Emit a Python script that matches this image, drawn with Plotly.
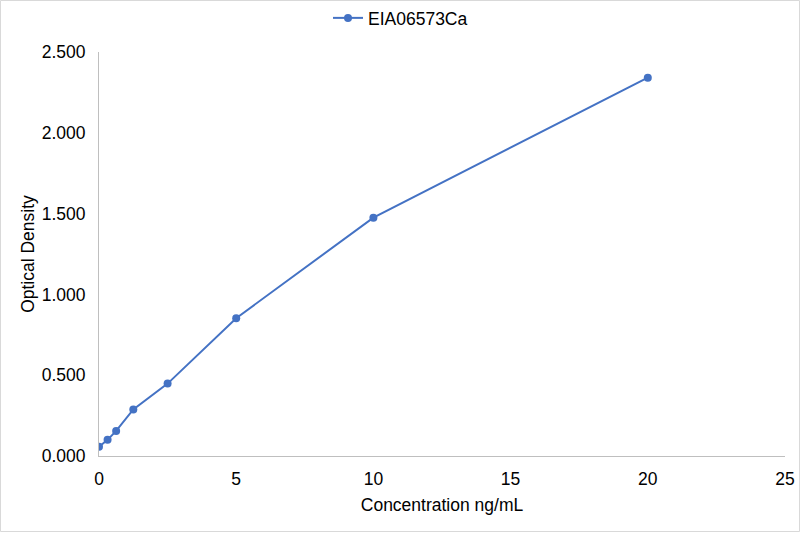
import plotly.graph_objects as go

concentration = [0, 0.3125, 0.625, 1.25, 2.5, 5, 10, 20]
optical_density = [0.057, 0.100, 0.155, 0.288, 0.448, 0.853, 1.475, 2.341]
series_name = "EIA06573Ca"

fig = go.Figure()
fig.add_trace(go.Scatter(
    x=concentration, y=optical_density, mode="lines+markers", name=series_name,
    line=dict(color="#4472C4", width=2),
    marker=dict(color="#4472C4", size=8),
))

fs = 17.5
axis_font = dict(family="Liberation Sans, Arial, sans-serif", size=fs, color="#000000")
W, H = 801, 533
L, R, T, B = 99, 16, 52, 77
pw, ph = W - L - R, H - T - B
fig.update_layout(
    width=W, height=H,
    paper_bgcolor="white", plot_bgcolor="white",
    font=axis_font,
    margin=dict(l=L, r=R, t=T, b=B, autoexpand=False),
    showlegend=True,
    legend=dict(orientation="h", x=0.5, xanchor="center", xref="container",
                y=1 - 18 / H, yanchor="middle", yref="container",
                font=dict(size=fs), bgcolor="rgba(0,0,0,0)"),
    xaxis=dict(range=[0, 25], tickvals=[0, 5, 10, 15, 20, 25], showgrid=False,
               showline=True, linecolor="#BFBFBF", linewidth=1, zeroline=False,
               ticks="", ticklabelstandoff=7,
               title=dict(text="Concentration ng/mL", font=dict(size=fs), standoff=10)),
    yaxis=dict(range=[0, 2.5], tickvals=[0, 0.5, 1.0, 1.5, 2.0, 2.5], tickformat=".3f",
               showgrid=False, showline=True, linecolor="#BFBFBF", linewidth=1, zeroline=False,
               ticks="", ticklabelstandoff=9,
               title=dict(text="Optical Density", font=dict(size=fs), standoff=2)),
    shapes=[dict(type="rect", xref="paper", yref="paper",
                 x0=-(L - 0.5) / pw, x1=(W - 1.5 - L) / pw,
                 y0=-(B - 1.5) / ph, y1=1 + (T - 0.5) / ph,
                 line=dict(color="#D9D9D9", width=1))],
)
fig.write_html("out.html", config={"displayModeBar": False},
               post_script="document.body.style.margin='0px';document.body.style.padding='0px';")
